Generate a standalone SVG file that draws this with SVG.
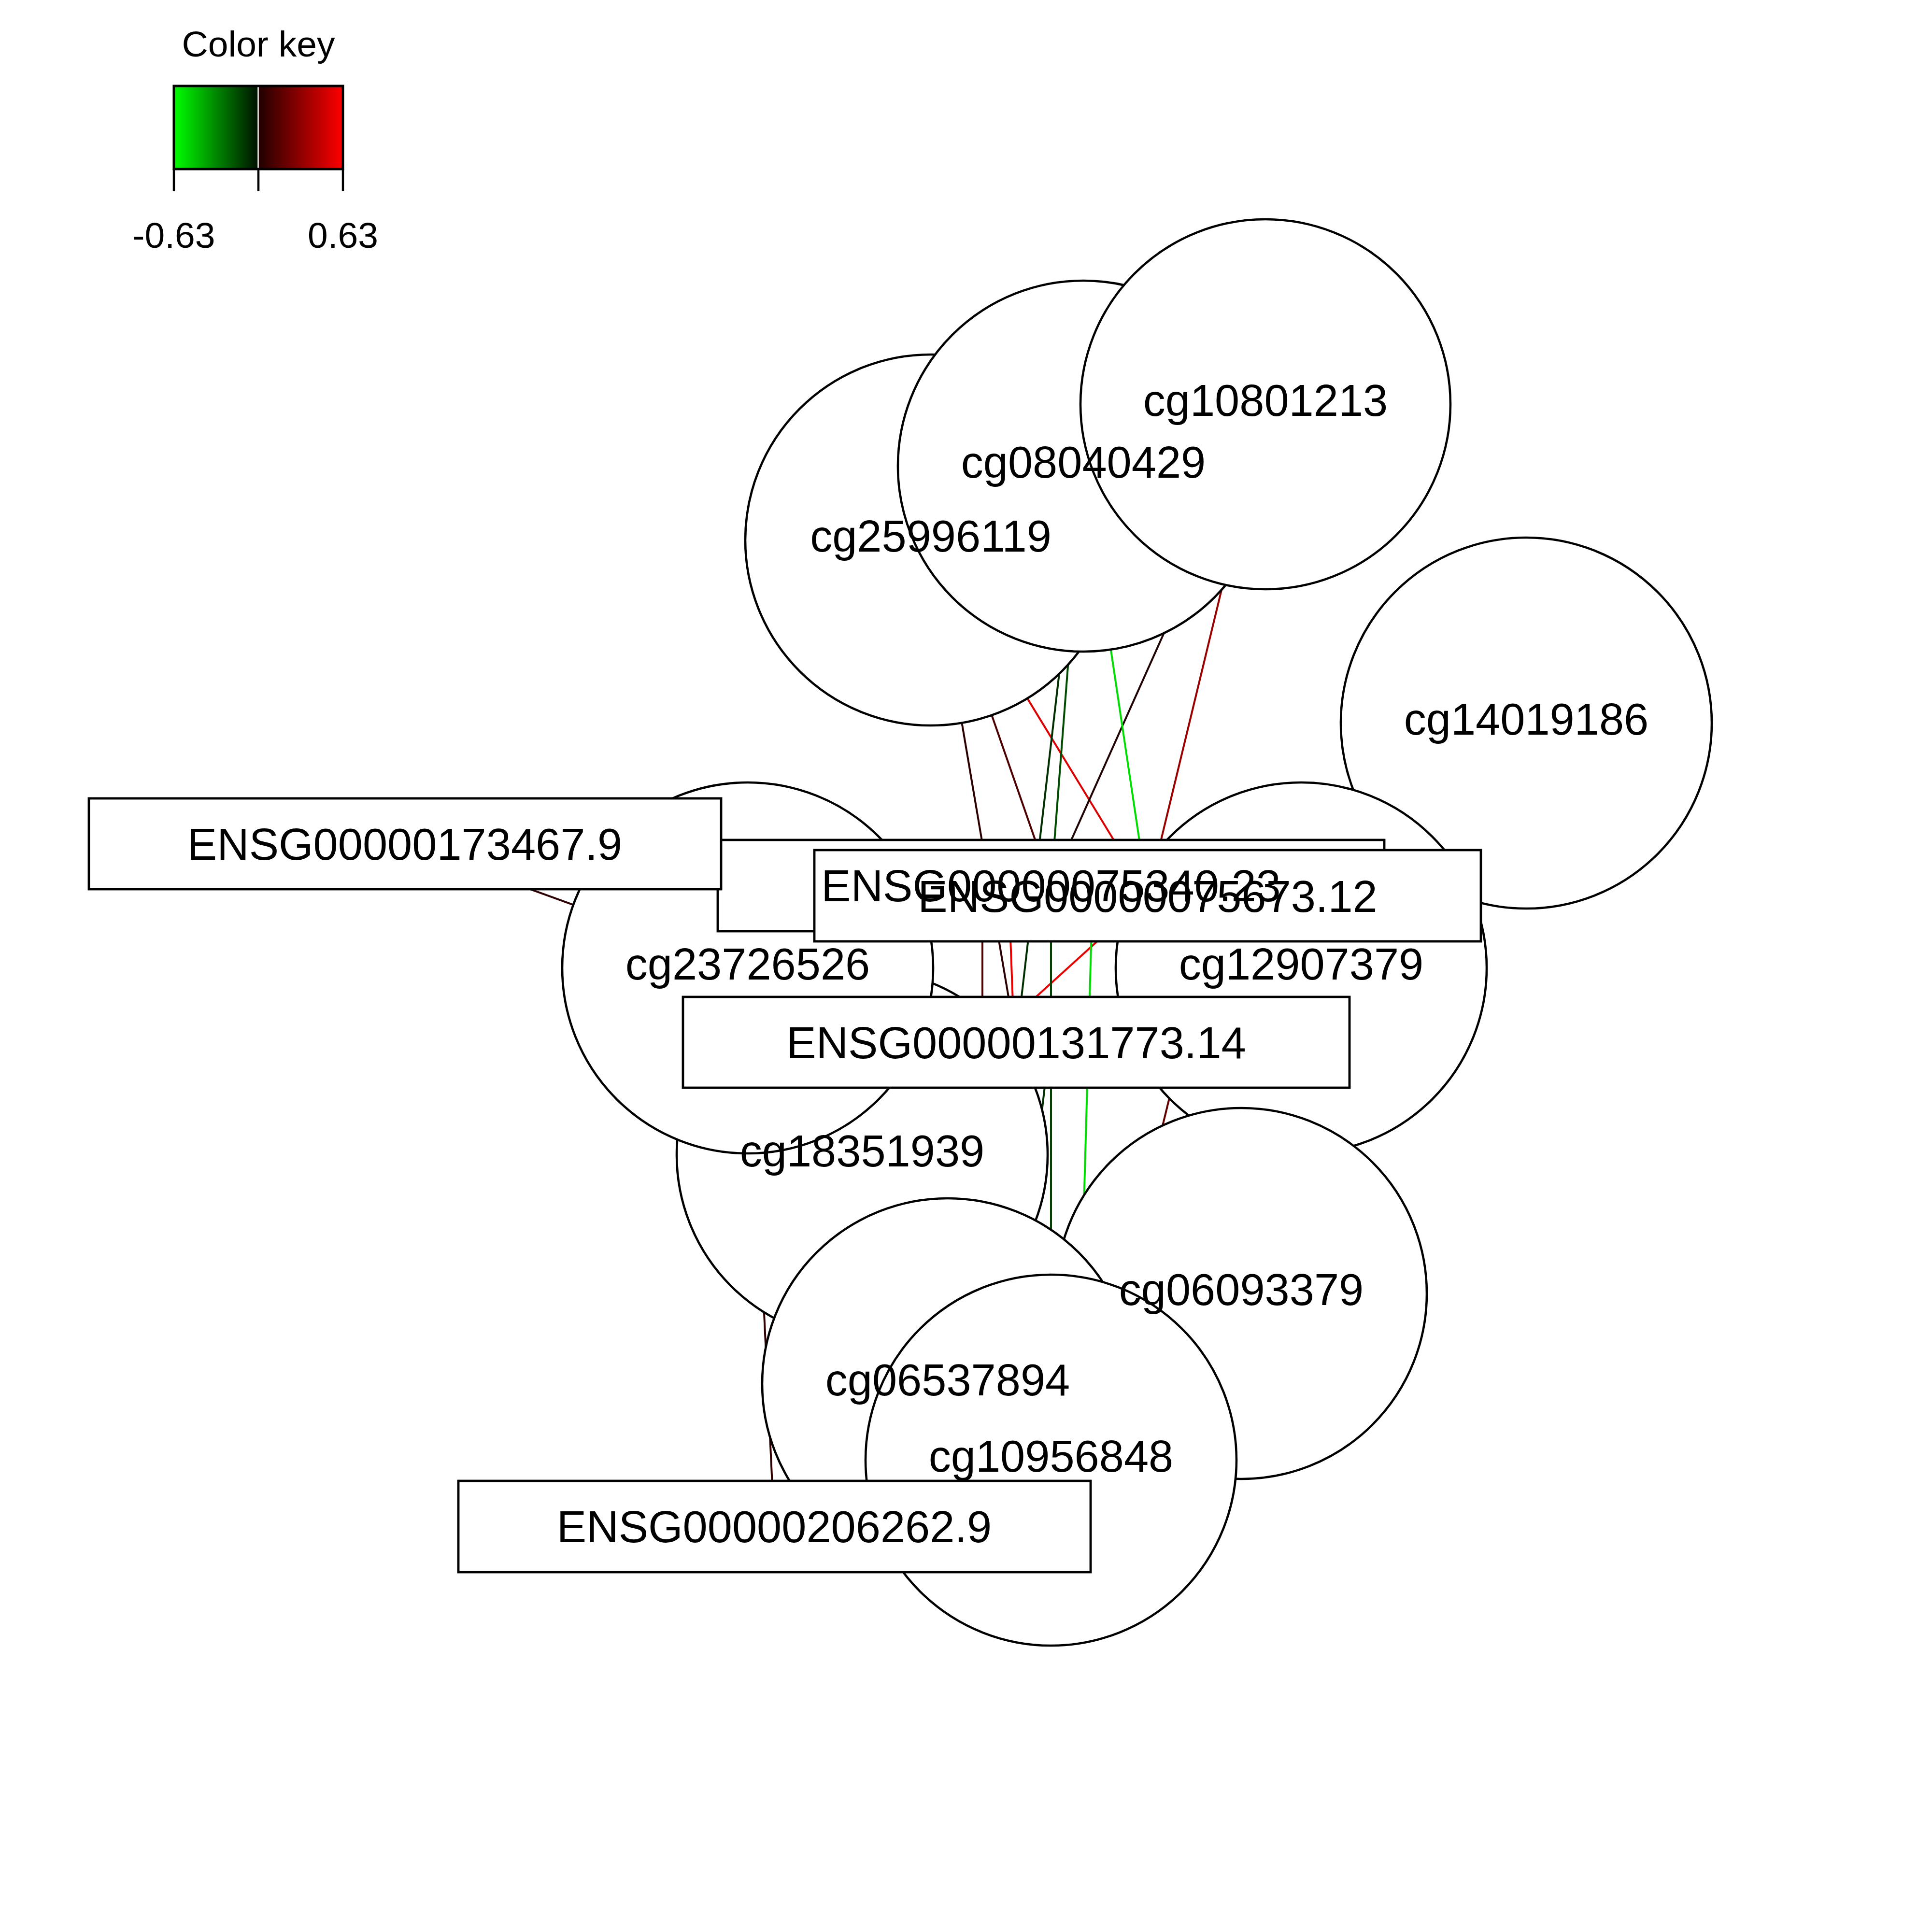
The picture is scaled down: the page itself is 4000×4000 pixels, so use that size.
<svg xmlns="http://www.w3.org/2000/svg" width="4000" height="4000" viewBox="0 0 4000 4000">
  <defs>
    <linearGradient id="gradNeg" x1="0" y1="0" x2="1" y2="0">
      <stop offset="0" stop-color="#00FF00"/>
      <stop offset="1" stop-color="#001000"/>
    </linearGradient>
    <linearGradient id="gradPos" x1="0" y1="0" x2="1" y2="0">
      <stop offset="0" stop-color="#200000"/>
      <stop offset="1" stop-color="#FF0000"/>
    </linearGradient>
  </defs>
  <style>
    text { font-family: "Liberation Sans", Arial, "DejaVu Sans", sans-serif; fill: #000000; text-anchor: middle; }
    .lbl { font-size: 92px; }
    .key { font-size: 75px; }
    .cpg { fill: #FFFFFF; stroke: #000000; stroke-width: 4.6; }
    .gene { fill: #FFFFFF; stroke: #000000; stroke-width: 4.8; }
    .edge { fill: none; stroke-width: 4; stroke-linecap: butt; }
    .tick { stroke: #000000; stroke-width: 4.5; }
  </style>
  <rect x="0" y="0" width="4000" height="4000" fill="#FFFFFF"/>

  <!-- Color key -->
  <g id="color-key">
    <text class="key" x="535" y="117">Color key</text>
    <rect x="360" y="178" width="175" height="172" fill="url(#gradNeg)"/>
    <rect x="535" y="178" width="175" height="172" fill="url(#gradPos)"/>
    <line x1="534.5" y1="180" x2="534.5" y2="348" stroke="#FFFFFF" stroke-width="2.5"/>
    <rect x="360" y="178" width="350" height="172" fill="none" stroke="#000000" stroke-width="5"/>
    <line class="tick" x1="360" y1="350" x2="360" y2="396"/>
    <line class="tick" x1="535" y1="350" x2="535" y2="396" stroke-width="7.5"/>
    <line class="tick" x1="710" y1="350" x2="710" y2="396"/>
    <text class="key" x="360" y="513">-0.63</text>
    <text class="key" x="710" y="513">0.63</text>
  </g>

  <!-- Connectors -->
  <g id="edges">
    <line class="edge" x1="838" y1="1747" x2="1548" y2="2004" stroke="#300000"/>
    <line class="edge" x1="1927" y1="1118" x2="2104" y2="2158" stroke="#2C0000"/>
    <line class="edge" x1="1927" y1="1118" x2="2176" y2="1833" stroke="#4D0000"/>
    <line class="edge" x1="1927" y1="1118" x2="2376" y2="1854" stroke="#DD0000"/>
    <line class="edge" x1="2243" y1="965" x2="2104" y2="2158" stroke="#003000"/>
    <line class="edge" x1="2243" y1="965" x2="2176" y2="1833" stroke="#004D00"/>
    <line class="edge" x1="2622" y1="837" x2="2176" y2="1833" stroke="#200404"/>
    <line class="edge" x1="2243" y1="965" x2="2376" y2="1854" stroke="#00DD00"/>
    <line class="edge" x1="2622" y1="837" x2="2376" y2="1854" stroke="#990000"/>
    <line class="edge" x1="2376" y1="1854" x2="1785" y2="2391" stroke="#EE0000"/>
    <line class="edge" x1="2176" y1="1833" x2="2176" y2="3023" stroke="#004400"/>
    <line class="edge" x1="2034" y1="1850" x2="2034" y2="2160" stroke="#500000"/>
    <line class="edge" x1="2089" y1="1860" x2="2100" y2="2157" stroke="#EE0000"/>
    <line class="edge" x1="2262" y1="1850" x2="2230" y2="3000" stroke="#00DD00"/>
    <line class="edge" x1="2167" y1="2215" x2="2148" y2="2380" stroke="#003000"/>
    <line class="edge" x1="2428" y1="2245" x2="2390" y2="2400" stroke="#660000"/>
    <line class="edge" x1="1548" y1="2004" x2="1603" y2="3160" stroke="#330000"/>
  </g>

  <!-- CpG nodes (circles) -->
  <g id="node-cg14019186"><circle class="cpg" cx="3160" cy="1497" r="384"/></g>
  <g id="node-cg12907379"><circle class="cpg" cx="2694" cy="2004" r="384"/></g>
  <g id="node-cg06093379"><circle class="cpg" cx="2570" cy="2678" r="384"/></g>
  <g id="node-cg18351939"><circle class="cpg" cx="1785" cy="2391" r="384"/></g>
  <g id="node-cg23726526"><circle class="cpg" cx="1548" cy="2004" r="384"/></g>
  <g id="node-cg06537894"><circle class="cpg" cx="1962" cy="2865" r="384"/></g>
  <g id="node-cg10956848"><circle class="cpg" cx="2176" cy="3023" r="384"/></g>
  <g id="node-cg25996119"><circle class="cpg" cx="1927" cy="1118" r="384"/></g>
  <g id="node-cg08040429"><circle class="cpg" cx="2243" cy="965" r="384"/></g>
  <g id="node-cg10801213"><circle class="cpg" cx="2620" cy="837" r="383"/></g>

  <!-- Gene nodes (rectangles) -->
  <g id="node-ENSG00000075340.23"><rect class="gene" x="1486" y="1739" width="1380" height="189"/></g>
  <g id="node-ENSG00000173467.9"><rect class="gene" x="184" y="1653" width="1309" height="188"/></g>
  <g id="node-ENSG00000075673.12"><rect class="gene" x="1686" y="1760" width="1380" height="189"/></g>
  <g id="node-ENSG00000131773.14"><rect class="gene" x="1414" y="2064" width="1380" height="188"/></g>
  <g id="node-ENSG00000206262.9"><rect class="gene" x="949" y="3066" width="1309" height="189"/></g>

  <!-- Node labels (drawn above all shapes) -->
  <g id="labels" class="lbl">
    <text id="label-cg14019186" class="lbl" x="3160" y="1521">cg14019186</text>
    <text id="label-cg12907379" class="lbl" x="2694" y="2028">cg12907379</text>
    <text id="label-cg06093379" class="lbl" x="2570" y="2702">cg06093379</text>
    <text id="label-cg18351939" class="lbl" x="1785" y="2415">cg18351939</text>
    <text id="label-cg23726526" class="lbl" x="1548" y="2028">cg23726526</text>
    <text id="label-cg06537894" class="lbl" x="1962" y="2889">cg06537894</text>
    <text id="label-cg10956848" class="lbl" x="2176" y="3047">cg10956848</text>
    <text id="label-cg25996119" class="lbl" x="1927" y="1142">cg25996119</text>
    <text id="label-cg08040429" class="lbl" x="2243" y="989">cg08040429</text>
    <text id="label-cg10801213" class="lbl" x="2620" y="861">cg10801213</text>
    <text id="label-ENSG00000075340.23" class="lbl" x="2176" y="1866">ENSG00000075340.23</text>
    <text id="label-ENSG00000173467.9" class="lbl" x="838" y="1780">ENSG00000173467.9</text>
    <text id="label-ENSG00000075673.12" class="lbl" x="2376" y="1888">ENSG00000075673.12</text>
    <text id="label-ENSG00000131773.14" class="lbl" x="2104" y="2191">ENSG00000131773.14</text>
    <text id="label-ENSG00000206262.9" class="lbl" x="1603" y="3193">ENSG00000206262.9</text>
  </g>
</svg>
